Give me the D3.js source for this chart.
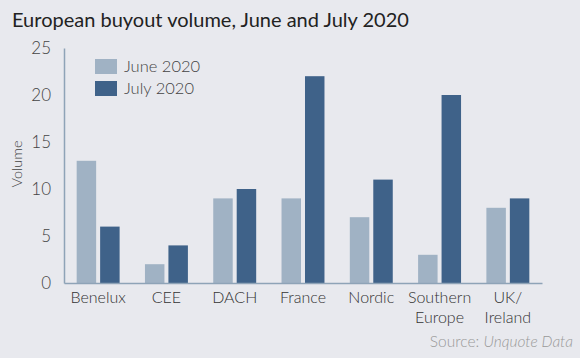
<!DOCTYPE html>
<html><head><meta charset="utf-8">
<script src="https://cdn.jsdelivr.net/npm/d3@7"></script>
<style>
html,body{margin:0;padding:0;background:#e8e9ee;}
svg{display:block;font-family:Lato,"Open Sans",sans-serif;}
</style></head>
<body><svg id="c" width="580" height="358"></svg>
<script>
const categories = [["Benelux"],["CEE"],["DACH"],["France"],["Nordic"],["Southern","Europe"],["UK/","Ireland"]];
const seriesNames = ["June 2020","July 2020"];
const june = [13,2,9,9,7,3,8];
const july = [6,4,10,22,11,20,9];
const yTicks = [0,5,10,15,20,25];
const colors = ["#a0b2c4","#3f6289"];

const svg = d3.select("#c");
svg.append("rect").attr("width",580).attr("height",358).attr("fill","#e8e9ee");

const keys = categories.map(c=>c.join(" "));
const x0 = d3.scaleBand().domain(keys).range([64,542]).padding(0);
const x1 = d3.scaleBand().domain(seriesNames).range([0,x0.bandwidth()]).paddingInner(0.17).paddingOuter(0.54);
const y = d3.scaleLinear().domain([0,25]).range([283,48]);

svg.append("text").attr("x",12).attr("y",27).attr("font-size",20).attr("fill","#222")
  .text("European buyout volume, June and July 2020");

const data = keys.map((k,i)=>({k, vals:[june[i],july[i]]}));
const g = svg.append("g");
data.forEach(d=>{
  d.vals.forEach((v,j)=>{
    g.append("rect").attr("x",x0(d.k)+x1(seriesNames[j])).attr("width",x1.bandwidth())
      .attr("y",y(v)).attr("height",y(0)-y(v)).attr("fill",colors[j]);
  });
});

// y axis
const yAxis = svg.append("g").attr("transform","translate(64,0)")
  .call(d3.axisLeft(y).tickValues(yTicks).tickSize(0).tickPadding(13));
yAxis.select(".domain").attr("stroke","#8ea3b7").attr("stroke-width",1.5);
yAxis.selectAll("text").attr("font-size",17).attr("fill","#444").attr("font-family","Lato").attr("font-weight",300);

// x axis
const xAxis = svg.append("g").attr("transform","translate(0,283)")
  .call(d3.axisBottom(x0).tickSize(0).tickFormat(""));
xAxis.select(".domain").attr("stroke","#8ea3b7").attr("stroke-width",1.5);
xAxis.selectAll(".tick").each(function(d,i){
  const t = d3.select(this).append("text").attr("text-anchor","middle").attr("font-size",16)
    .attr("fill","#333").attr("font-family","Lato").attr("font-weight",300);
  categories[i].forEach((line,li)=>{
    t.append("tspan").attr("x",0).attr("y",20+li*20).text(line);
  });
});

svg.append("text").attr("transform","translate(22,164) rotate(-90)").attr("text-anchor","middle")
  .attr("font-size",14.5).attr("font-weight",300).attr("fill","#444").text("Volume");

// legend
seriesNames.forEach((s,i)=>{
  svg.append("rect").attr("x",95).attr("y",59+i*22).attr("width",22).attr("height",15).attr("fill",colors[i]);
  svg.append("text").attr("x",124).attr("y",72+i*22).attr("font-size",16.5).attr("font-weight",300).attr("fill","#444").text(s);
});

const src = svg.append("text").attr("x",573).attr("y",347).attr("text-anchor","end")
  .attr("font-size",15.5).attr("font-weight",300).attr("fill","#999");
src.append("tspan").text("Source: ");
src.append("tspan").attr("font-style","italic").text("Unquote Data");
</script></body></html>
